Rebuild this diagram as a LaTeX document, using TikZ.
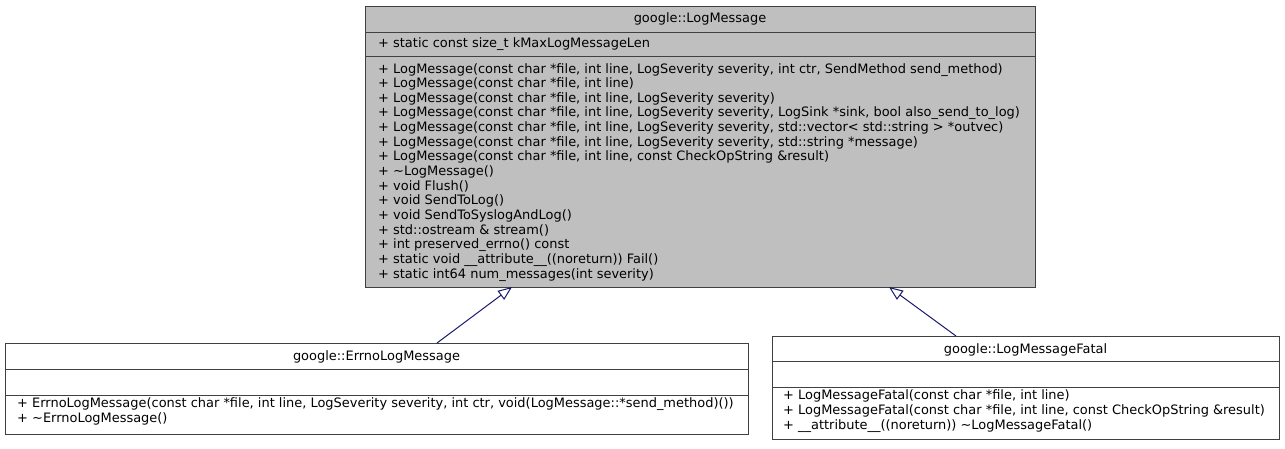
\documentclass[tikz,border=0pt]{standalone}
\usepackage{fontspec}
\setmainfont{DejaVu Sans}
\usetikzlibrary{arrows.meta}
\definecolor{boxfill}{HTML}{BFBFBF}
\definecolor{boxline}{HTML}{404040}
\definecolor{edgecol}{HTML}{191970}
\newcommand{\umlfont}{\fontsize{12.95}{14.65}\selectfont}
\tikzset{
  classbox/.style={draw=boxline, line width=1pt, anchor=north west, inner sep=0pt, outer sep=0pt},
  divider/.style={draw=boxline, line width=1pt},
  member/.style={anchor=base west, inner sep=0pt, font=\umlfont},
  classtitle/.style={anchor=base, inner sep=0pt, font=\umlfont},
  inh/.style={draw=edgecol, line width=1pt, -{Triangle[open, length=14pt, width=11pt]}},
}
\begin{document}
\begin{tikzpicture}[x=1pt,y=-1pt]
\useasboundingbox (0,0) rectangle (1285,448);
% ---------- base class ----------
\node[classbox, fill=boxfill, minimum width=670pt, minimum height=281pt] (base) at (365,6) {};
\draw[divider] (base.west |- 0,32) -- (base.east |- 0,32);
\draw[divider] (base.west |- 0,56) -- (base.east |- 0,56);
\node[classtitle] (basetitle) at (700,22.5) {google::LogMessage};
\node[member] (baseattr) at (378,47.5) {+ static const size\_t kMaxLogMessageLen};
\foreach \t [count=\i] in {
  {+ LogMessage(const char *file, int line, LogSeverity severity, int ctr, SendMethod send\_method)},
  {+ LogMessage(const char *file, int line)},
  {+ LogMessage(const char *file, int line, LogSeverity severity)},
  {+ LogMessage(const char *file, int line, LogSeverity severity, LogSink *sink, bool also\_send\_to\_log)},
  {+ LogMessage(const char *file, int line, LogSeverity severity, std::vector< std::string > *outvec)},
  {+ LogMessage(const char *file, int line, LogSeverity severity, std::string *message)},
  {+ LogMessage(const char *file, int line, const CheckOpString \&result)},
  {+ \textasciitilde LogMessage()},
  {+ void Flush()},
  {+ void SendToLog()},
  {+ void SendToSyslogAndLog()},
  {+ std::ostream \& stream()},
  {+ int preserved\_errno() const},
  {+ static void \_\_attribute\_\_((noreturn)) Fail()},
  {+ static int64 num\_messages(int severity)}}
{
  \node[member] (bm\i) at (378,{73+(\i-1)*14.65}) {\t};
}
% ---------- ErrnoLogMessage ----------
\node[classbox, fill=white, minimum width=743pt, minimum height=91pt] (errno) at (5,343) {};
\draw[divider] (errno.west |- 0,369) -- (errno.east |- 0,369);
\draw[divider] (errno.west |- 0,395) -- (errno.east |- 0,395);
\node[classtitle] (errnotitle) at (376.5,360.5) {google::ErrnoLogMessage};
\node[member] (em1) at (17,407.5) {+ ErrnoLogMessage(const char *file, int line, LogSeverity severity, int ctr, void(LogMessage::*send\_method)())};
\node[member] (em2) at (17,422.5) {+ \textasciitilde ErrnoLogMessage()};
% ---------- LogMessageFatal ----------
\node[classbox, fill=white, minimum width=507pt, minimum height=103pt] (fatal) at (772,336) {};
\draw[divider] (fatal.west |- 0,361) -- (fatal.east |- 0,361);
\draw[divider] (fatal.west |- 0,387) -- (fatal.east |- 0,387);
\node[classtitle] (fataltitle) at (1025.5,353.5) {google::LogMessageFatal};
\node[member] (fm1) at (783,399.5) {+ LogMessageFatal(const char *file, int line)};
\node[member] (fm2) at (783,414.5) {+ LogMessageFatal(const char *file, int line, const CheckOpString \&result)};
\node[member] (fm3) at (783,429.5) {+ \_\_attribute\_\_((noreturn)) \textasciitilde LogMessageFatal()};
% ---------- inheritance ----------
\draw[inh] (437,0 |- errno.north) -- (512,0 |- base.south);
\draw[inh] (956,0 |- fatal.north) -- (889,0 |- base.south);
\end{tikzpicture}
\end{document}
